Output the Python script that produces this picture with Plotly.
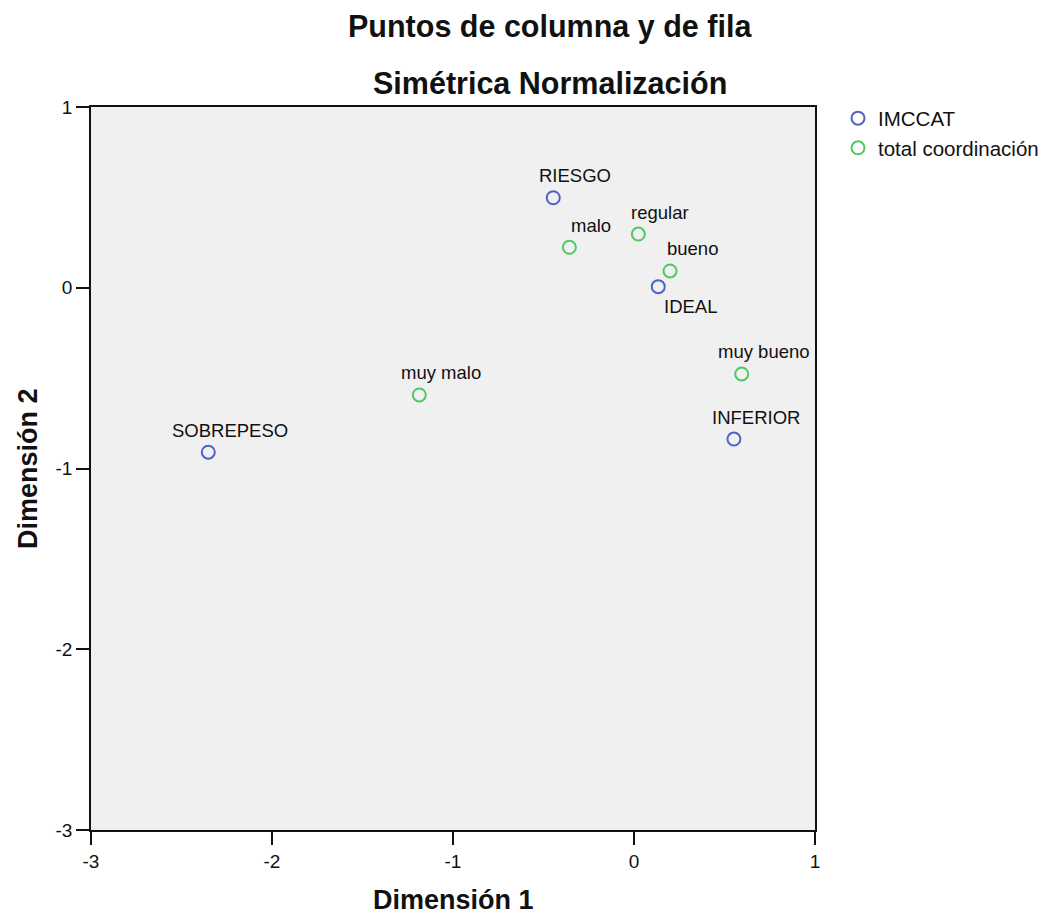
import plotly.graph_objects as go

# Row categories (IMCCAT) and their coordinates on the two dimensions
imccat_labels = ["SOBREPESO", "RIESGO", "IDEAL", "INFERIOR"]
imccat_dim1 = [-2.352, -0.446, 0.134, 0.552]
imccat_dim2 = [-0.910, 0.498, 0.006, -0.837]

# Column categories (total coordinación)
coord_labels = ["muy malo", "malo", "regular", "bueno", "muy bueno"]
coord_dim1 = [-1.186, -0.357, 0.024, 0.199, 0.595]
coord_dim2 = [-0.593, 0.224, 0.297, 0.093, -0.477]

axis_ticks = [-3, -2, -1, 0, 1]

BLUE = "#4f62c6"
GREEN = "#4fc862"
FONT = "Liberation Sans, Arial, sans-serif"

WIDTH, HEIGHT = 1047, 916
MARGIN_L, MARGIN_R, MARGIN_T, MARGIN_B = 91, 232, 107, 86
LEGEND_LEFT_PX = 838

# Pixel offsets of each point label relative to its marker
label_shift = {lab: (22, 22) for lab in imccat_labels + coord_labels}
label_shift["IDEAL"] = (32, -20)

fig = go.Figure()

fig.add_trace(go.Scatter(
    x=imccat_dim1, y=imccat_dim2, mode="markers", name="IMCCAT",
    marker=dict(symbol="circle-open", size=13, color=BLUE, line=dict(width=2, color=BLUE)),
    hovertext=imccat_labels,
))
fig.add_trace(go.Scatter(
    x=coord_dim1, y=coord_dim2, mode="markers", name="total coordinación",
    marker=dict(symbol="circle-open", size=13, color=GREEN, line=dict(width=2, color=GREEN)),
    hovertext=coord_labels,
))

annotations = []
for labs, xs, ys in [(imccat_labels, imccat_dim1, imccat_dim2),
                     (coord_labels, coord_dim1, coord_dim2)]:
    for lab, xv, yv in zip(labs, xs, ys):
        dx, dy = label_shift[lab]
        annotations.append(dict(
            x=xv, y=yv, xref="x", yref="y", text=lab, showarrow=False,
            xanchor="center", yanchor="middle", xshift=dx, yshift=dy,
            font=dict(family=FONT, size=18.5, color="#111111"),
        ))

# Titles
annotations += [
    dict(x=0.634, y=1.1107, xref="paper", yref="paper", text="<b>Puntos de columna y de fila</b>",
         showarrow=False, xanchor="center", yanchor="middle",
         font=dict(family=FONT, size=30.5, color="#111111")),
    dict(x=0.634, y=1.0332, xref="paper", yref="paper", text="<b>Simétrica Normalización</b>",
         showarrow=False, xanchor="center", yanchor="middle",
         font=dict(family=FONT, size=30.5, color="#111111")),
    dict(x=0.501, y=-0.097, xref="paper", yref="paper", text="<b>Dimensión 1</b>",
         showarrow=False, xanchor="center", yanchor="middle",
         font=dict(family=FONT, size=27, color="#111111")),
    dict(x=-0.087, y=0.4993, xref="paper", yref="paper", text="<b>Dimensión 2</b>",
         showarrow=False, xanchor="center", yanchor="middle", textangle=-90,
         font=dict(family=FONT, size=27, color="#111111")),
]

axis_style = dict(
    range=[-3, 1], tickvals=axis_ticks, ticktext=[str(t) for t in axis_ticks],
    showgrid=False, zeroline=False, showline=True, linecolor="#111111", linewidth=1.5,
    mirror=True, ticks="outside", ticklen=13, tickwidth=1.5, tickcolor="#111111",
    tickfont=dict(family=FONT, size=19, color="#111111"),
)

legend_x = (LEGEND_LEFT_PX - MARGIN_L) / (WIDTH - MARGIN_L - MARGIN_R)

fig.update_layout(
    width=WIDTH, height=HEIGHT,
    margin=dict(l=MARGIN_L, r=MARGIN_R, t=MARGIN_T, b=MARGIN_B, pad=0, autoexpand=False),
    paper_bgcolor="white", plot_bgcolor="#f0f0f0",
    xaxis=axis_style, yaxis=axis_style,
    showlegend=True,
    legend=dict(x=legend_x, xref="paper", y=1.012, xanchor="left", yanchor="top",
                font=dict(family=FONT, size=20.5, color="#111111"),
                bgcolor="rgba(0,0,0,0)", tracegroupgap=0, itemwidth=30),
    annotations=annotations,
)

fig.write_html("out.html")
